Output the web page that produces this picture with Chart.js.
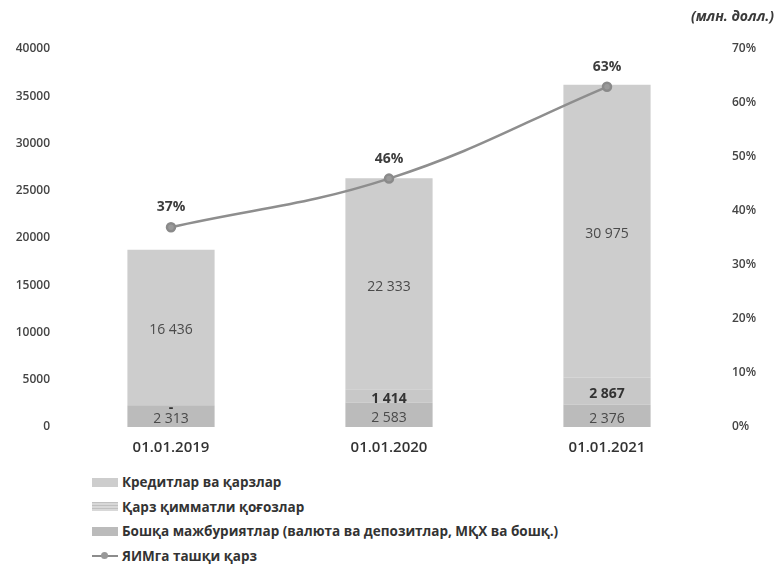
<!DOCTYPE html>
<html>
<head>
<meta charset="utf-8">
<script src="https://cdn.jsdelivr.net/npm/chart.js@4/dist/chart.umd.min.js"></script>
<style>
  html, body { margin: 0; padding: 0; background: #ffffff; }
  #wrap { position: relative; width: 778px; height: 564px; overflow: hidden; background: #fff; }
  #box { position: absolute; left: 0; top: 0; width: 778px; height: 470px; }
  #unit { position: absolute; right: 4px; top: 6px; font: italic 700 14px "Open Sans", sans-serif; color: #3a3a3a; }
  #legend { position: absolute; left: 92px; top: 470px; font: 700 13.5px "Open Sans", sans-serif; color: #333; }
  .li { display: flex; align-items: center; height: 24.5px; }
  .sw { width: 26px; height: 9px; margin-right: 4px; }
  .ln { width: 26px; height: 9px; margin-right: 4px; position: relative; }
  .ln:before { content: ""; position: absolute; left: 0; right: 0; top: 3.5px; height: 2px; background: #8c8c8c; }
  .ln:after { content: ""; position: absolute; left: 9px; top: 1px; width: 7px; height: 7px; border-radius: 50%; background: #999; }
</style>
</head>
<body>
<div id="wrap">
  <div id="box"><canvas id="c"></canvas></div>
  <div id="unit">(млн. долл.)</div>
  <div id="legend"></div>
</div>
<script>
// ---- data ----
const categories = ['01.01.2019', '01.01.2020', '01.01.2021'];
const loans = [16436, 22333, 30975];              // Кредитлар ва қарзлар
const securities = [0, 1414, 2867];               // Қарз қимматли қоғозлар
const otherLiabilities = [2313, 2583, 2376];      // Бошқа мажбуриятлар
const debtToGdp = [37, 46, 63];                   // ЯИМга ташқи қарз, %
const seriesNames = ['Кредитлар ва қарзлар', 'Қарз қимматли қоғозлар',
  'Бошқа мажбуриятлар (валюта ва депозитлар, МҚХ ва бошқ.)', 'ЯИМга ташқи қарз'];
const leftMax = 40000, leftStep = 5000;
const rightMax = 70, rightStep = 10;

const FONT = '"Open Sans", sans-serif';
const fmt = v => v === 0 ? '-' : String(v).replace(/\B(?=(\d{3})+(?!\d))/g, ' ');

const labelPlugin = {
  id: 'vals',
  afterDatasetsDraw(chart) {
    const ctx = chart.ctx;
    ctx.save();
    ctx.textAlign = 'center';
    ctx.textBaseline = 'middle';
    chart.data.datasets.forEach((ds, di) => {
      const meta = chart.getDatasetMeta(di);
      if (meta.hidden) return;
      meta.data.forEach((el, i) => {
        const v = ds.data[i];
        if (ds.type === 'line') {
          ctx.font = '700 14px ' + FONT;
          ctx.fillStyle = '#3d3d3d';
          ctx.fillText(v + '%', el.x, el.y - 20);
        } else {
          ctx.font = (ds.boldLabel ? '700 ' : '400 ') + '14px ' + FONT;
          ctx.fillStyle = ds.boldLabel ? '#333' : '#4a4a4a';
          ctx.fillText(fmt(v), el.x, (el.y + el.base) / 2 + 3);
        }
      });
    });
    ctx.restore();
  }
};

const chart = new Chart(document.getElementById('c'), {
  data: {
    labels: categories,
    datasets: [
      { type: 'bar', label: seriesNames[2], data: otherLiabilities, backgroundColor: '#bbbbbb', yAxisID: 'y', stack: 's', order: 2, barPercentage: 0.4, categoryPercentage: 1 },
      { type: 'bar', label: seriesNames[1], data: securities, backgroundColor: '#c8c8c8', yAxisID: 'y', stack: 's', order: 2, barPercentage: 0.4, categoryPercentage: 1, boldLabel: true },
      { type: 'bar', label: seriesNames[0], data: loans, backgroundColor: '#cdcdcd', yAxisID: 'y', stack: 's', order: 2, barPercentage: 0.4, categoryPercentage: 1 },
      { type: 'line', label: seriesNames[3], data: debtToGdp, yAxisID: 'y2', borderColor: '#8e8e8e', borderWidth: 2.5, pointRadius: 4, pointBackgroundColor: '#9a9a9a', pointBorderColor: '#8a8a8a', tension: 0.4, order: 0 }
    ]
  },
  options: {
    responsive: true,
    maintainAspectRatio: false,
    animation: false,
    layout: { padding: { top: 49, left: 0, right: 0, bottom: 0 } },
    plugins: { legend: { display: false }, tooltip: { enabled: false }, title: { display: false } },
    scales: {
      x: {
        stacked: true,
        grid: { display: false, drawTicks: false },
        border: { display: false },
        ticks: { font: { family: FONT, size: 15, weight: '600' }, color: '#333', padding: 12 },
        afterFit(s) { s.height = 43; }
      },
      y: {
        stacked: true, position: 'left', min: 0, max: leftMax,
        grid: { display: false, drawTicks: false },
        border: { display: false },
        ticks: { stepSize: leftStep, callback: v => String(v), font: { family: FONT, size: 12, weight: '600' }, color: '#444', padding: 12 },
        afterFit(s) { s.width = 62; }
      },
      y2: {
        position: 'right', min: 0, max: rightMax,
        grid: { display: false, drawTicks: false },
        border: { display: false },
        ticks: { stepSize: rightStep, callback: v => v + '%', font: { family: FONT, size: 12, weight: '600' }, color: '#444', padding: 16 },
        afterFit(s) { s.width = 62; }
      }
    }
  },
  plugins: [labelPlugin]
});

// HTML legend built from chart datasets (order as in the reference)
const legend = document.getElementById('legend');
[2, 1, 0, 3].forEach(di => {
  const ds = chart.data.datasets[di];
  const row = document.createElement('div');
  row.className = 'li';
  const sw = document.createElement('span');
  if (ds.type === 'line') { sw.className = 'ln'; }
  else {
    sw.className = 'sw';
    sw.style.background = ds.backgroundColor;
    if (di === 1) sw.style.background = 'repeating-linear-gradient(0deg,#d8d8d8 0 2px,#c0c0c0 2px 3px)';
  }
  const t = document.createElement('span');
  t.textContent = ds.label;
  row.appendChild(sw); row.appendChild(t);
  legend.appendChild(row);
});
</script>
</body>
</html>
